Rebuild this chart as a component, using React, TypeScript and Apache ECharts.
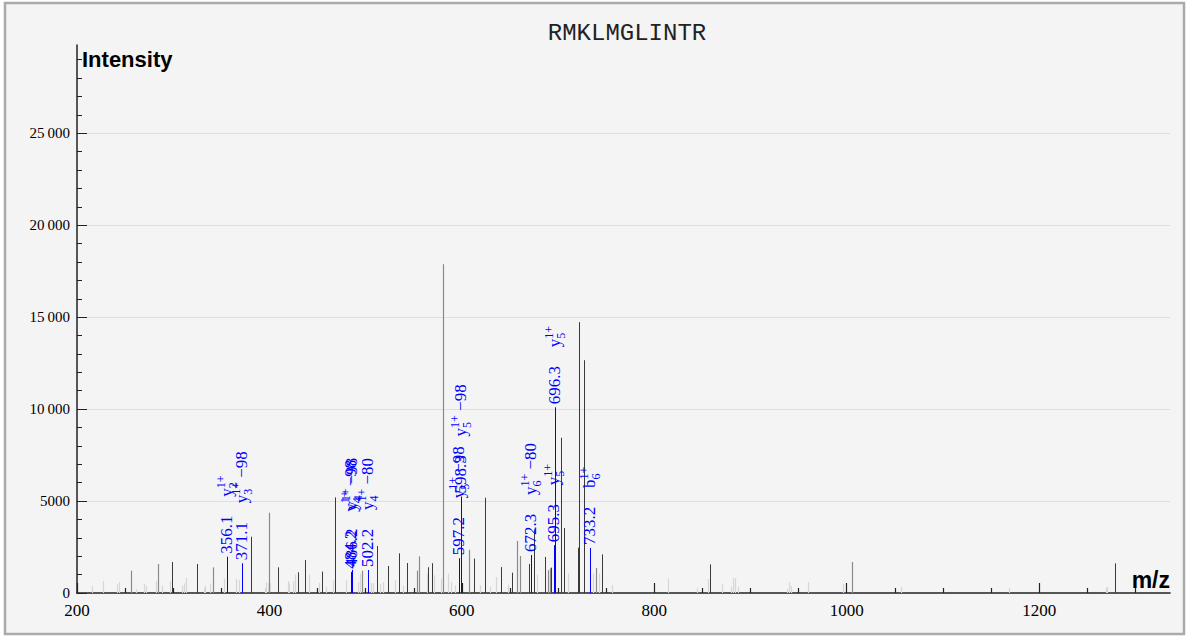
import React, { useEffect, useRef } from "react";
import * as echarts from "echarts";

const TITLE = "RMKLMGLINTR";
const X_MIN = 200;
const X_MAX = 1336;
const Y_MIN = 0;
const Y_MAX = 29800;

const xMajorTicks = [200, 400, 600, 800, 1000, 1200];
const xMinorTicks = [250, 300, 350, 450, 500, 550, 650, 700, 750, 850, 900, 950, 1050, 1100, 1150, 1250, 1300];
const yMajorTicks = [0, 5000, 10000, 15000, 20000, 25000];
const yMinorTicks = [
  1000, 2000, 3000, 4000, 6000, 7000, 8000, 9000, 11000, 12000, 13000, 14000,
  16000, 17000, 18000, 19000, 21000, 22000, 23000, 24000, 26000, 27000, 28000, 29000,
];

// unannotated peaks [m/z, intensity]
const darkPeaks: [number, number][] = [
  [298.4, 1685], [325.0, 1576], [381.2, 3060], [409.3, 1395], [430.0, 1125], [436.5, 1790],
  [454.4, 1160], [468.5, 5200], [511.5, 2555], [523.3, 1470], [535.0, 2155], [543.0, 1630],
  [565.2, 1400], [568.5, 1620], [612.8, 1870], [624.1, 5180], [640.4, 1410], [652.2, 1105],
  [669.5, 1580], [675.0, 3460], [686.5, 1958], [692.7, 1380], [703.5, 8440], [705.9, 3530],
  [721.1, 2464], [722.2, 14730], [727.4, 12660], [745.4, 2100], [858.3, 1558], [1279.3, 1612],
];
const grayPeaks: [number, number][] = [
  [256.0, 1212], [283.9, 1576], [341.0, 1395], [399.2, 4365], [496.3, 1215], [553.0, 1215],
  [555.2, 1990], [580.8, 17880], [607.5, 2350], [657.0, 2826], [660.2, 2010], [690.0, 1233],
  [691.7, 1340], [739.1, 1360], [1005.3, 1685],
];
const lightPeaks: [number, number][] = [
  [215.6, 380], [227.0, 650], [241.6, 460], [244.0, 590], [261.7, 220], [270.0, 500],
  [271.7, 380], [282.0, 650], [288.4, 400], [296.3, 650], [309.5, 380], [311.0, 520],
  [313.3, 810], [331.7, 270], [333.4, 400], [337.9, 520], [353.0, 790], [365.6, 760],
  [368.0, 700], [395.0, 280], [396.8, 600], [419.0, 650], [420.7, 520], [424.5, 630],
  [426.6, 1000], [441.2, 1000], [451.6, 540], [458.5, 330], [466.4, 690], [479.3, 690],
  [492.4, 600], [494.2, 1050], [505.3, 540], [508.0, 540], [515.0, 500], [518.5, 600],
  [531.0, 690], [539.0, 400], [563.5, 1050], [571.0, 960], [578.0, 780], [586.0, 1050],
  [589.2, 600], [593.0, 420], [619.0, 420], [629.3, 340], [635.6, 870], [648.4, 450],
  [678.5, 1000], [710.7, 1070], [736.7, 1070], [742.9, 1050], [756.5, 420], [814.3, 800],
  [844.0, 250], [856.2, 760], [870.2, 480], [879.5, 330], [882.2, 800], [884.3, 800],
  [887.0, 330], [938.4, 220], [940.5, 580], [942.2, 380], [959.5, 580], [996.6, 490],
  [1056.2, 330], [1169.0, 280], [1269.3, 280], [1271.0, 330],
];

// annotated (matched) peaks
const annotatedPeaks: [number, number][] = [
  [356.1, 1975], [371.1, 1615], [484.4, 1150], [486.2, 1260], [502.2, 1250], [597.2, 1890],
  [598.6, 5250], [672.3, 2065], [695.3, 2600], [696.3, 10100], [733.2, 2445],
];
const annotatedMassLabels = [
  "356.1", "371.1", "484.2", "486.2", "502.2", "597.2", "598.3", "672.3", "695.3", "696.3", "733.2",
];
// [ion, subscript, superscript, neutral loss]
const annotatedIonLabels: [string, string, string, string][] = [
  ["y", "2", "1+", ""],
  ["y", "3", "1+", " \u221298"],
  ["y", "4", "1+", " \u221298"],
  ["y", "4", "1+", " \u221298"],
  ["y", "4", "1+", " \u221280"],
  ["y", "5", "1+", " \u221298"],
  ["y", "5", "1+", " \u221298"],
  ["y", "6", "1+", " \u221280"],
  ["y", "5", "1+", ""],
  ["y", "5", "1+", ""],
  ["b", "6", "1+", ""],
];

const BLUE = "#0000ff";
const SERIF = "'Liberation Serif', 'Times New Roman', serif";
const SANS = "'Liberation Sans', Arial, sans-serif";

function stick(color: string, width: number) {
  return (params: any, api: any) => {
    const b = api.coord([api.value(0), 0]);
    const t = api.coord([api.value(0), api.value(1)]);
    const px = Math.round(b[0]) + 0.5;
    return {
      type: "line",
      shape: { x1: px, y1: b[1], x2: px, y2: t[1] },
      style: { stroke: color, lineWidth: width },
    };
  };
}

function annotated(params: any, api: any) {
  const i = params.dataIndex;
  const b = api.coord([api.value(0), 0]);
  const t = api.coord([api.value(0), api.value(1)]);
  const px = Math.round(b[0]) + 0.5;
  const [ion, sub, sup, loss] = annotatedIonLabels[i];
  const richText = `{m|${ion}}{sub|${sub}}{sup|${sup}}` + (loss ? `{m|${loss}}` : "");
  return {
    type: "group",
    children: [
      {
        type: "line",
        shape: { x1: px, y1: b[1], x2: px, y2: t[1] },
        style: { stroke: BLUE, lineWidth: 1 },
      },
      {
        type: "text",
        x: px - 1,
        y: t[1] - 3,
        rotation: Math.PI / 2,
        style: {
          text: annotatedMassLabels[i],
          align: "left",
          verticalAlign: "middle",
          fill: BLUE,
          fontSize: 17,
          fontFamily: SERIF,
        },
      },
      {
        type: "text",
        x: px - 1,
        y: t[1] - 60,
        rotation: Math.PI / 2,
        style: {
          text: richText,
          align: "left",
          verticalAlign: "middle",
          fill: BLUE,
          fontSize: 17,
          fontFamily: SERIF,
          rich: {
            m: { fill: BLUE, color: BLUE, fontSize: 17, fontFamily: SERIF, lineHeight: 24 },
            sub: { fill: BLUE, color: BLUE, fontSize: 12, fontFamily: SERIF, verticalAlign: "bottom", lineHeight: 12, width: 0 },
            sup: { fill: BLUE, color: BLUE, fontSize: 12, fontFamily: SERIF, verticalAlign: "top", lineHeight: 12 },
          },
        },
      },
    ],
  };
}

function fmtY(v: number) {
  if (v >= 10000) {
    const th = Math.floor(v / 1000);
    const rest = String(v % 1000).padStart(3, "0");
    return `${th}\u2009${rest}`;
  }
  return String(v);
}

export default function App() {
  const ref = useRef<HTMLDivElement>(null);
  useEffect(() => {
    if (!ref.current) return;
    const chart = echarts.init(ref.current, undefined, { renderer: "svg" });
    const commonX = { type: "value", min: X_MIN, max: X_MAX, gridIndex: 0, position: "bottom", offset: 0 };
    const commonY = { type: "value", min: Y_MIN, max: Y_MAX, gridIndex: 0, position: "left", offset: 0 };
    chart.setOption({
      animation: false,
      backgroundColor: "#ffffff",
      grid: { left: 77, right: 18, top: 45, bottom: 44, containLabel: false },
      xAxis: [
        {
          ...commonX,
          axisLine: { show: true, onZero: false, lineStyle: { color: "#222", width: 1.6 } },
          axisTick: { show: true, inside: true, length: 10, customValues: xMajorTicks, lineStyle: { color: "#222", width: 1.2 } },
          axisLabel: {
            show: true,
            customValues: xMajorTicks,
            formatter: (v: number) => String(v),
            margin: 9,
            color: "#000",
            fontSize: 17,
            fontFamily: SERIF,
          },
          splitLine: { show: false },
        },
        {
          ...commonX,
          axisLine: { show: false },
          axisTick: { show: true, inside: true, length: 5, customValues: xMinorTicks, lineStyle: { color: "#222", width: 1.2 } },
          axisLabel: { show: false },
          splitLine: { show: false },
        },
      ],
      yAxis: [
        {
          ...commonY,
          interval: 5000,
          axisLine: { show: true, onZero: false, lineStyle: { color: "#222", width: 1.5 } },
          axisTick: { show: true, inside: true, length: 10, customValues: yMajorTicks, lineStyle: { color: "#222", width: 1 } },
          axisLabel: {
            show: true,
            customValues: yMajorTicks,
            formatter: (v: number) => fmtY(v),
            margin: 7,
            color: "#000",
            fontSize: 15,
            fontFamily: SERIF,
          },
          splitLine: {
            show: true,
            showMinLine: false,
            lineStyle: { color: "#dedede", width: 1 },
          },
        },
        {
          ...commonY,
          axisLine: { show: false },
          axisTick: { show: true, inside: true, length: 5, customValues: yMinorTicks, lineStyle: { color: "#222", width: 1 } },
          axisLabel: { show: false },
          splitLine: { show: false },
        },
      ],
      graphic: [
        {
          type: "rect",
          z: -10,
          shape: { x: 5, y: 3, width: 1179, height: 631 },
          style: { fill: "#f4f4f4", stroke: "#aaaaaa", lineWidth: 2.5 },
        },
        {
          type: "text",
          x: 627,
          y: 33,
          style: {
            text: TITLE,
            align: "center",
            verticalAlign: "middle",
            fill: "#222",
            fontSize: 24,
            fontFamily: "'Liberation Mono', 'Courier New', monospace",
          },
        },
        {
          type: "text",
          x: 82,
          y: 59,
          style: {
            text: "Intensity",
            align: "left",
            verticalAlign: "middle",
            fill: "#000",
            fontSize: 22,
            fontWeight: "bold",
            fontFamily: SANS,
          },
        },
        {
          type: "text",
          x: 1170,
          y: 580,
          style: {
            text: "m/z",
            align: "right",
            verticalAlign: "middle",
            fill: "#000",
            fontSize: 23,
            fontWeight: "bold",
            fontFamily: SANS,
          },
        },
      ],
      series: [
        { type: "custom", name: "light", xAxisIndex: 0, yAxisIndex: 0, encode: { x: 0, y: 1 }, data: lightPeaks, renderItem: stick("#d6d6d6", 1.2), z: 2 },
        { type: "custom", name: "gray", xAxisIndex: 0, yAxisIndex: 0, encode: { x: 0, y: 1 }, data: grayPeaks, renderItem: stick("#8a8a8a", 1.2), z: 3 },
        { type: "custom", name: "dark", xAxisIndex: 0, yAxisIndex: 0, encode: { x: 0, y: 1 }, data: darkPeaks, renderItem: stick("#3a3a3a", 1), z: 4 },
        { type: "custom", name: "annotated", xAxisIndex: 0, yAxisIndex: 0, encode: { x: 0, y: 1 }, data: annotatedPeaks, renderItem: annotated, z: 5 },
      ],
    });
    return () => chart.dispose();
  }, []);
  return (
    <div
      ref={ref}
      style={{ position: "fixed", left: 0, top: 0, width: 1188, height: 637 }}
    />
  );
}
